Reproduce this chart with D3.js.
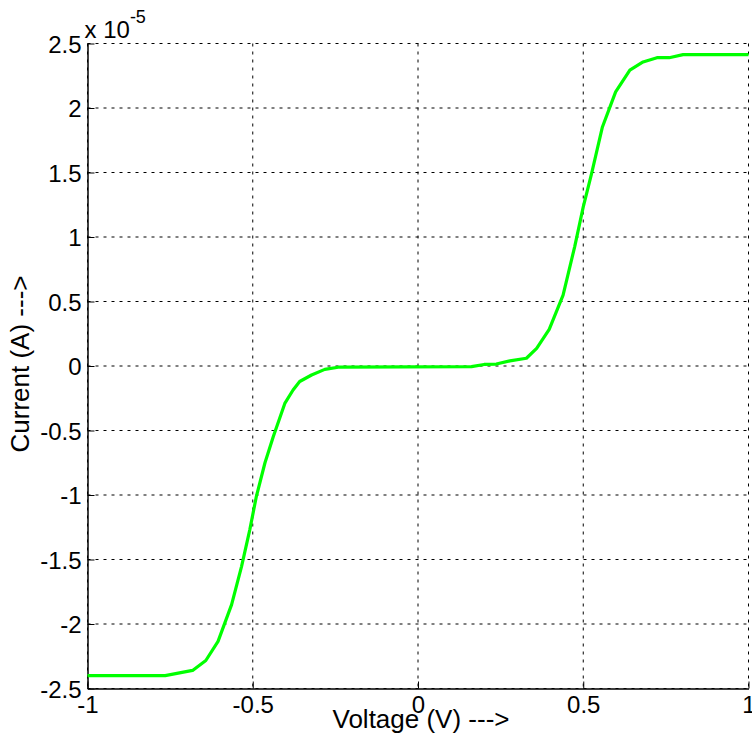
<!DOCTYPE html>
<html>
<head>
<meta charset="utf-8">
<script src="https://cdn.jsdelivr.net/npm/d3@7"></script>
<style>
  body { margin: 0; background: #fff; }
  svg { display: block; }
  text { font-family: "Liberation Sans", Arial, sans-serif; fill: #000; }
</style>
</head>
<body>
<div id="chart"></div>
<script>
// Data (current in units of 1e-5 A)
const voltage = [-1, -0.765, -0.682, -0.642, -0.605, -0.564, -0.534, -0.509, -0.489, -0.463,
  -0.438, -0.403, -0.378, -0.358, -0.322, -0.282, -0.237, 0.162, 0.200, 0.237,
  0.278, 0.328, 0.359, 0.397, 0.439, 0.474, 0.500, 0.525, 0.558, 0.598,
  0.641, 0.681, 0.723, 0.760, 0.802, 1.0];
const current = [-2.40, -2.40, -2.36, -2.283, -2.135, -1.85, -1.555, -1.27, -1.01, -0.75,
  -0.548, -0.29, -0.186, -0.12, -0.07, -0.026, -0.008, -0.005, 0.012, 0.015,
  0.04, 0.06, 0.137, 0.284, 0.55, 0.924, 1.234, 1.49, 1.853, 2.125,
  2.293, 2.357, 2.39, 2.39, 2.414, 2.414];
const xTicks = [-1, -0.5, 0, 0.5, 1];
const yTicks = [-2.5, -2, -1.5, -1, -0.5, 0, 0.5, 1, 1.5, 2, 2.5];

const data = voltage.map((v, i) => ({ v: v, c: current[i] }));

// Dimensions of the chart
const W = 752, H = 736;
const margin = { top: 43.5, right: 3.5, bottom: 47.5, left: 87.5 },
      width = W - margin.left - margin.right,
      height = H - margin.top - margin.bottom;

const x = d3.scaleLinear().domain([-1, 1]).range([0, width]);
const y = d3.scaleLinear().domain([-2.5, 2.5]).range([height, 0]);

const svg = d3.select("#chart").append("svg")
    .attr("width", W)
    .attr("height", H)
  .append("g")
    .attr("transform", `translate(${margin.left},${margin.top})`);

// Dotted grid
svg.append("g").selectAll("line")
    .data(xTicks)
    .enter().append("line")
    .attr("x1", d => x(d)).attr("x2", d => x(d))
    .attr("y1", 0).attr("y2", height)
    .attr("stroke", "#000").attr("stroke-width", 1)
    .attr("stroke-dasharray", "3,5");

svg.append("g").selectAll("line")
    .data(yTicks)
    .enter().append("line")
    .attr("x1", 0).attr("x2", width)
    .attr("y1", d => y(d)).attr("y2", d => y(d))
    .attr("stroke", "#000").attr("stroke-width", 1)
    .attr("stroke-dasharray", "3,5");

// Axes, ticks pointing inward, labels like matlab ("-0.5", "0", "1")
const fmt = d => String(d);
const xAxis = d3.axisBottom(x).tickValues(xTicks).tickSizeInner(-7).tickSizeOuter(0).tickFormat(fmt);
const yAxis = d3.axisLeft(y).tickValues(yTicks).tickSizeInner(-7).tickSizeOuter(0).tickFormat(fmt);

const gx = svg.append("g")
    .attr("transform", `translate(0,${height})`)
    .call(xAxis);
const gy = svg.append("g").call(yAxis);

[gx, gy].forEach(g => {
  g.select(".domain").attr("stroke", "#000").attr("stroke-width", 1.5);
  g.selectAll(".tick line").attr("stroke", "#000");
  g.selectAll(".tick text")
    .style("font-family", "'Liberation Sans', Arial, sans-serif")
    .style("font-size", "24px")
    .attr("fill", "#000");
});
gx.selectAll(".tick text").attr("y", 7).attr("dy", "0.71em");
gy.selectAll(".tick text").attr("x", -6).attr("dy", "0.36em");

// The curve
const line = d3.line()
    .x(d => x(d.v))
    .y(d => y(d.c));

svg.append("path")
    .datum(data)
    .attr("fill", "none")
    .attr("stroke", "#00ff00")
    .attr("stroke-width", 3.2)
    .attr("stroke-linejoin", "round")
    .attr("d", line);

// Exponent label
const expo = svg.append("text")
    .attr("x", -3)
    .attr("y", -6)
    .style("font-size", "24px");
expo.append("tspan").text("x 10");
expo.append("tspan").attr("dy", -15).style("font-size", "18px").text("-5");

// Axis labels
svg.append("text")
    .attr("x", width / 2 + 3)
    .attr("y", height + 39)
    .style("text-anchor", "middle")
    .style("font-size", "26px")
    .text("Voltage (V) --->");

svg.append("text")
    .attr("transform", "rotate(-90)")
    .attr("x", -height / 2 + 2)
    .attr("y", -59)
    .style("text-anchor", "middle")
    .style("font-size", "26px")
    .text("Current (A) --->");
</script>
</body>
</html>
